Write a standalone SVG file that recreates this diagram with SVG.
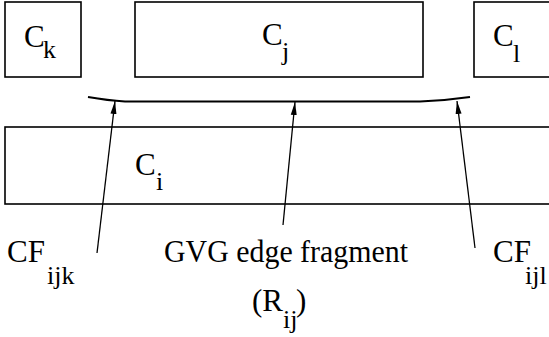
<svg xmlns="http://www.w3.org/2000/svg" width="549" height="337" viewBox="0 0 549 337">
<style>
.box{fill:#fff;stroke:#000;stroke-width:1.6}
.m{font-size:31px}
.s{font-size:26px}
.ln{stroke:#000;stroke-width:1.3;fill:none}
.fr{stroke:#000;stroke-width:2;fill:none}
</style>
<defs>
<marker id="ah" markerWidth="14" markerHeight="8" refX="13" refY="4" orient="auto" markerUnits="userSpaceOnUse">
<path d="M0,1 L13,4 L0,7 Z" fill="#000"/>
</marker>
</defs>
<rect width="549" height="337" fill="#fff"/>
<g font-family="Liberation Serif, Times New Roman, DejaVu Serif, serif" fill="#000">
<g id="node-ck">
<rect class="box" x="5" y="2" width="76" height="75"/>
<text class="m" x="24" y="47">C</text><text class="s" x="43" y="58">k</text>
</g>
<g id="node-cj">
<rect class="box" x="135" y="2" width="288" height="75"/>
<text class="m" x="262" y="45">C</text><text class="s" x="282" y="60">j</text>
</g>
<g id="node-cl">
<rect class="box" x="474" y="2" width="90" height="75"/>
<text class="m" x="493" y="46">C</text><text class="s" x="513" y="62">l</text>
</g>
<g id="node-ci">
<rect class="box" x="5" y="127" width="560" height="77"/>
<text class="m" x="135" y="175">C</text><text class="s" x="156" y="190">i</text>
</g>
<g id="node-fragment">
<path class="fr" d="M88,97 Q108,100.5 125,101.5 L420,101.5 Q446,100.5 470,97"/>
</g>
<g id="connectors">
<line class="ln" x1="97" y1="253" x2="115" y2="101" marker-end="url(#ah)"/>
<line class="ln" x1="283" y1="225" x2="295" y2="102" marker-end="url(#ah)"/>
<line class="ln" x1="475" y1="248" x2="457" y2="101" marker-end="url(#ah)"/>
</g>
<g id="label-cfijk">
<text class="m" x="7" y="262">CF</text><text class="s" x="47" y="284">ijk</text>
</g>
<g id="label-gvg">
<text class="m" x="164" y="262" textLength="244" lengthAdjust="spacingAndGlyphs">GVG edge fragment</text>
<text class="m" x="252" y="311">(R</text><text class="s" x="283" y="328">ij</text><text class="m" x="296" y="311">)</text>
</g>
<g id="label-cfijl">
<text class="m" x="493" y="262">CF</text><text class="s" x="525" y="284">ijl</text>
</g>
</g>
</svg>
